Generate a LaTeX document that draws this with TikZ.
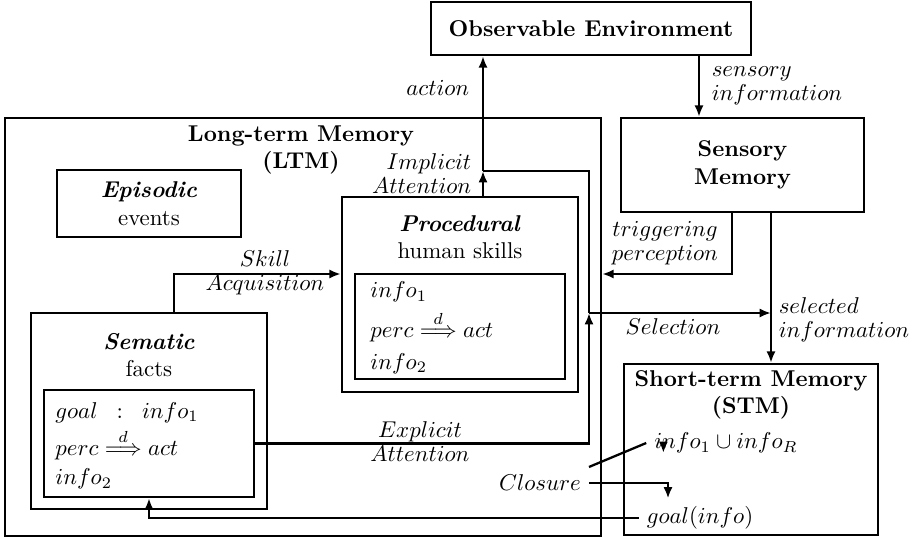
\documentclass[tikz,border=0pt]{standalone}
\usepackage{amsmath}
\usetikzlibrary{arrows.meta,positioning,calc}

\tikzset{
  box/.style={draw,line width=1pt,rectangle,inner sep=0pt,align=center},
  lbl/.style={inner sep=1pt,align=center,font=\fontsize{10}{10.5}\selectfont},
  arr/.style={line width=1pt,-{Latex[length=5pt,width=4pt]}},
  conn/.style={line width=1pt},
}

\begin{document}
\begin{tikzpicture}[x=0.4372pt,y=-0.4372pt]
  \useasboundingbox (0,0) rectangle (915,539);

  % Boxes
  \node[box,minimum width=139.9pt,minimum height=23.2pt] (env) at (591,28.5) {\textbf{Observable Environment}};
  \node[box,minimum width=106.2pt,minimum height=41.1pt] (sens) at (742.5,165) {\textbf{Sensory}\\\textbf{Memory}};
  \node[box,minimum width=111pt,minimum height=74.8pt] (stm) at (751,449.5) {};
  \node[box,minimum width=260.6pt,minimum height=182.7pt] (ltm) at (303,327) {};
  \node[box,minimum width=80.4pt,minimum height=29.3pt] (epi) at (149,203.5) {\textbf{\textit{Episodic}}\\events};
  \node[box,minimum width=103.2pt,minimum height=85.3pt] (procout) at (460,294.5) {};
  \node[box,minimum width=91.8pt,minimum height=45.9pt] (procin) at (460,326.5) {};
  \node[box,minimum width=103.2pt,minimum height=85.7pt] (semout) at (149,411) {};
  \node[box,minimum width=91.8pt,minimum height=46.8pt] (semin) at (149,443.5) {};

  % Texts in boxes
  \node[align=center] (ltmtitle) at (301,150) {\textbf{Long-term Memory}\\\textbf{(LTM)}};
  \node[align=center] (proctitle) at (460,237) {\textbf{\textit{Procedural}}\\human skills};
  \node[anchor=west,inner sep=0pt] (proctext) at (370,328)
    {$\begin{array}{@{}l@{}} info_1\\[2pt] perc \stackrel{d}{\Longrightarrow} act\\[2pt] info_2\end{array}$};
  \node[align=center] (semtitle) at (149,355) {\textbf{\textit{Sematic}}\\facts};
  \node[anchor=west,inner sep=0pt] (semtext) at (55,446)
    {$\begin{array}{@{}l@{}} goal\;\;:\;\;info_1\\[1pt] perc \stackrel{d}{\Longrightarrow} act\\[1pt] info_2\end{array}$};
  \node[align=center] (stmtitle) at (751,395) {\textbf{Short-term Memory}\\\textbf{(STM)}};
  \node (info) at (726,443) {$info_1\cup info_R$};
  \node (goal) at (700,518) {$goal(info)$};
  \node (closure) at (540,483) {$Closure$};

  % Lanes
  \coordinate (join) at (483,171);
  \coordinate (sensx) at (699,0);
  \coordinate (trig) at (732,274);
  \coordinate (sel) at (771,313);
  \coordinate (split) at (589,313);
  \coordinate (skill) at (174,274);
  \coordinate (clx) at (668,0);

  % Connectors
  \draw[arr] (procout.north -| join) -- (join);
  \draw[arr] (join) -- (env.south -| join);
  \draw[arr] (env.south -| sensx) -- (sens.north -| sensx);
  \draw[arr] (sens.south -| trig) -- (trig) -- (ltm.east |- trig);
  \draw[arr] (sens.south -| sel) -- (stm.north -| sel);
  \draw[arr] (split) -- (sel);
  \draw[arr] (semin.east) -| (split);
  \draw[conn] (split) |- (join);
  \draw[arr] (semout.north -| skill) -- (skill) -- (procout.west |- skill);
  \draw[arr] (goal.west) -| (semin.south);
  \draw[arr] (closure.north east) -- (info.west) ([xshift=7.5pt]info.west) -- ++(0,10);
  \draw[arr] (closure.east) -| (goal.north -| clx);

  % Labels
  \node[lbl,anchor=east] (lact) at (472,88) {$action$};
  \node[lbl,anchor=west,align=left] (lsens) at (709,86) {$sensory$\\$information$};
  \node[lbl,anchor=east,align=right] (limp) at (474,174) {$Implicit$\\$Attention$};
  \node[lbl] (lskill) at (265,273) {$Skill$\\$Acquisition$};
  \node[lbl] (lexp) at (420,442) {$Explicit$\\$Attention$};
  \node[lbl] (lsel) at (673,327) {$Selection$};
  \node[lbl] (ltrig) at (665,243) {$triggering$\\$perception$};
  \node[lbl,anchor=west,align=left] (lseld) at (776,320) {$selected$\\$information$};
\end{tikzpicture}
\end{document}
